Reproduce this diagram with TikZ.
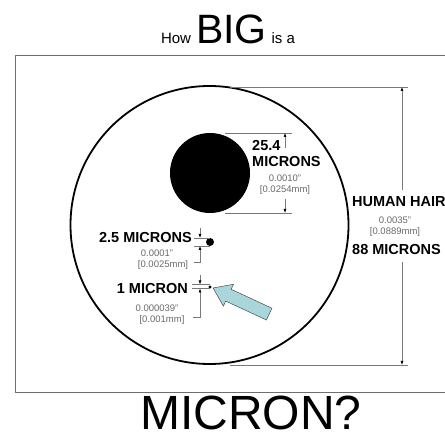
\documentclass[tikz,border=0pt]{standalone}
\usepackage{fontspec}
\setmainfont{Liberation Sans}
\usetikzlibrary{arrows.meta}
\definecolor{dimgray}{HTML}{7A7A7A}
\definecolor{numgray}{HTML}{6A6A6A}
\definecolor{framegray}{HTML}{6E6E6E}
\definecolor{arrowblue}{HTML}{A8D6DA}
\begin{document}
\begin{tikzpicture}[x=1pt,y=-1pt,
  dimline/.style={draw=dimgray,line width=0.6pt},
  dimarrow/.style={draw=dimgray,line width=0.6pt,-{Latex[length=4pt,width=3pt,color=black]}},
  biglabel/.style={font=\fontsize{14.5}{15}\selectfont\bfseries,inner sep=0pt},
  numlabel/.style={font=\fontsize{9.5}{11}\selectfont,text=numgray,inner sep=0pt},
  dot/.style={circle,fill=black,inner sep=0pt},
]
\useasboundingbox (0,0) rectangle (445,435);
\fill[white] (0,0) rectangle (445,435);

% title
\node[anchor=base,inner sep=0pt] (title) at (228,44)
  {{\fontsize{15}{15}\selectfont How}\hspace{5pt}{\fontsize{41}{41}\selectfont BIG}\hspace{5pt}{\fontsize{15}{15}\selectfont is a}};
\node[anchor=base,inner sep=0pt,font=\fontsize{48}{48}\selectfont] (bottomtitle) at (251,430) {MICRON?};

% frame
\coordinate (f1) at (445,55);
\coordinate (f2) at (15,55);
\coordinate (f3) at (15,392);
\coordinate (f4) at (445,392);
\draw[framegray,line width=0.9pt] (f1) -- (f2) -- (f3) -- (f4);

% shapes
\node[circle,draw=black,line width=1.8pt,minimum size=278pt,inner sep=0pt] (hair) at (209.5,225) {};
\node[dot,minimum size=80pt] (disk) at (210,173) {};
\node[dot,minimum size=8pt] (dotB) at (210,242) {};
\node[dot,minimum size=3.4pt] (dotA) at (210,287) {};

% human hair dimension
\coordinate (hT1) at (230,87);  \coordinate (hT2) at (408,87);
\coordinate (hB1) at (230,365); \coordinate (hB2) at (408,365);
\coordinate (hTa) at (402,87);  \coordinate (hTs) at (402,190);
\coordinate (hBa) at (402,365); \coordinate (hBs) at (402,262);
\draw[dimline] (hT1) -- (hT2);
\draw[dimline] (hB1) -- (hB2);
\draw[dimarrow] (hTs) -- (hTa);
\draw[dimarrow] (hBs) -- (hBa);

% 25.4 micron dimension
\coordinate (dT1) at (225,133); \coordinate (dT2) at (292,133);
\coordinate (dB1) at (225,213); \coordinate (dB2) at (292,213);
\coordinate (dTa) at (285,133); \coordinate (dTs) at (285,148);
\coordinate (dBa) at (285,213); \coordinate (dBs) at (285,199);
\draw[dimline] (dT1) -- (dT2);
\draw[dimline] (dB1) -- (dB2);
\draw[dimarrow] (dTs) -- (dTa);
\draw[dimarrow] (dBs) -- (dBa);

% 2.5 micron dimension
\coordinate (bT1) at (194,238); \coordinate (bT2) at (210,238);
\coordinate (bB1) at (194,246); \coordinate (bB2) at (210,246);
\coordinate (bTa) at (200,238); \coordinate (bTs) at (200,228);
\coordinate (bBa) at (200,246); \coordinate (bBs) at (200,262);
\coordinate (bBh) at (194,262);
\draw[dimline] (bT1) -- (bT2);
\draw[dimline] (bB1) -- (bB2);
\draw[dimarrow] (bTs) -- (bTa);
\draw[dimarrow] (bBh) -- (bBs) -- (bBa);

% 1 micron dimension
\coordinate (aT1) at (192,284.5); \coordinate (aT2) at (210,284.5);
\coordinate (aB1) at (192,288.5); \coordinate (aB2) at (210,288.5);
\coordinate (aTa) at (200,284.5); \coordinate (aTs) at (200,275);
\coordinate (aBa) at (200,288.5); \coordinate (aBs) at (200,317);
\coordinate (aBh) at (193,317);
\draw[dimline] (aT1) -- (aT2);
\draw[dimline] (aB1) -- (aB2);
\draw[dimarrow] (aTs) -- (aTa);
\draw[dimarrow] (aBh) -- (aBs) -- (aBa);

% pointer arrow
\coordinate (pTip) at (213,288);
\coordinate (pW1) at (223.4,306.1);
\coordinate (pN1) at (225.7,301.1);
\coordinate (pE1) at (266.5,320);
\coordinate (pE2) at (271.9,308.2);
\coordinate (pN2) at (231.1,289.3);
\coordinate (pW2) at (233.5,284.3);
\draw[fill=arrowblue,draw=black!70,line width=0.5pt,line join=miter]
  (pTip) -- (pW1) -- (pN1) -- (pE1) -- (pE2) -- (pN2) -- (pW2) -- cycle;

% labels: disk
\node[biglabel,anchor=base west] (l254) at (252,151) {25.4};
\node[biglabel,anchor=base west] (l254m) at (252,167) {MICRONS};
\node[numlabel,anchor=base] (l254a) at (285,182) {0.0010"};
\node[numlabel,anchor=base] (l254b) at (285,192.5) {[0.0254mm]};

% labels: hair
\node[biglabel,anchor=base west] (lhair) at (352,207) {HUMAN HAIR};
\node[numlabel,anchor=base] (lhaira) at (395,224) {0.0035"};
\node[numlabel,anchor=base] (lhairb) at (395,234.5) {[0.0889mm]};
\node[biglabel,anchor=base west] (lhair88) at (352,255) {88 MICRONS};

% labels: 2.5
\node[biglabel,anchor=base east] (l25) at (192,243) {2.5 MICRONS};
\node[numlabel,anchor=base] (l25a) at (157,257) {0.0001"};
\node[numlabel,anchor=base] (l25b) at (163,268) {[0.0025mm]};

% labels: 1
\node[biglabel,anchor=base east] (l1) at (188,294) {1 MICRON};
\node[numlabel,anchor=base] (l1a) at (157,312) {0.000039"};
\node[numlabel,anchor=base] (l1b) at (162,322.5) {[0.001mm]};
\end{tikzpicture}
\end{document}
